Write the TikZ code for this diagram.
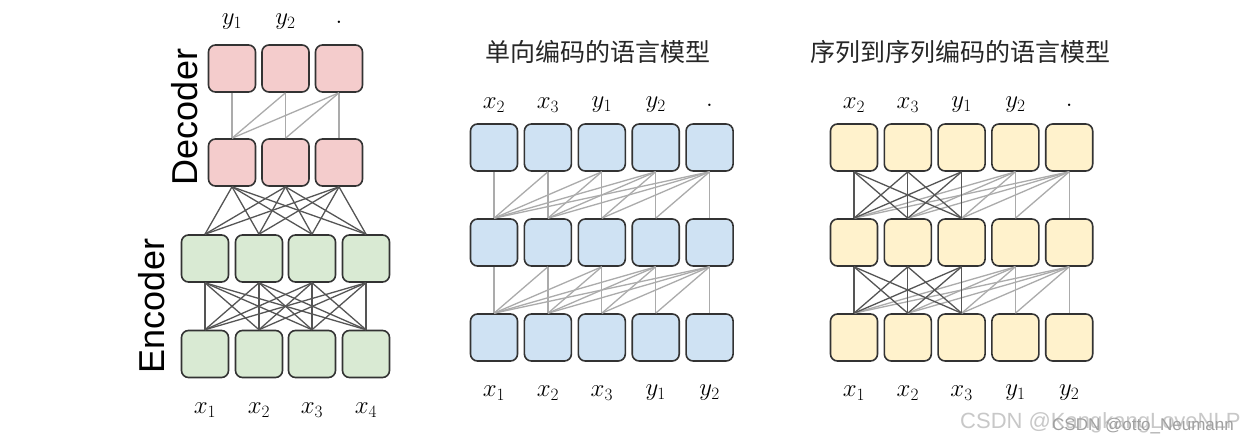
\documentclass[tikz,border=0pt]{standalone}
\usepackage{fontspec}
\newfontfamily\cjk{Noto Sans CJK SC}
\newfontfamily\arial{Liberation Sans}
\definecolor{pinkf}{HTML}{F4CCCC}
\definecolor{greenf}{HTML}{D9EAD3}
\definecolor{bluef}{HTML}{CFE2F3}
\definecolor{yellowf}{HTML}{FFF2CC}
\definecolor{boxline}{HTML}{333333}
\definecolor{lightc}{HTML}{ABABAB}
\definecolor{darkc}{HTML}{555555}
\definecolor{wm}{HTML}{C8C8C8}
\definecolor{wm2}{HTML}{A0A0A0}
\begin{document}
\begin{tikzpicture}[x=1pt,y=-1pt,
  cell/.style={draw=boxline,line width=1.6pt,rounded corners=7pt,minimum width=47pt,minimum height=47pt,inner sep=0pt},
  lite/.style={draw=lightc,line width=1.3pt},
  dark/.style={draw=darkc,line width=1.3pt},
  lab/.style={font=\fontsize{27}{30}\selectfont,inner sep=0pt},
  ttl/.style={font=\cjk\fontsize{25}{30}\selectfont,text=black!85,inner sep=0pt},
  side/.style={font=\arial\fontsize{36}{40}\selectfont,rotate=90,inner sep=0pt}]
\useasboundingbox[fill=white] (0,0) rectangle (1247,441);
% ---------- left panel ----------
\foreach \i/\x in {1/232,2/285.5,3/339}{
  \node[cell,fill=pinkf] (dt\i) at (\x,68.5) {};
  \node[cell,fill=pinkf] (db\i) at (\x,162.5) {};
}
\foreach \i/\x in {1/205,2/259,3/312,4/366}{
  \node[cell,fill=greenf] (et\i) at (\x,258.5) {};
  \node[cell,fill=greenf] (eb\i) at (\x,354) {};
}
\foreach \i in {1,2,3}{\foreach \j in {1,...,\i}{\draw[lite] (dt\i.south) -- (db\j.north);}}
\foreach \i in {1,2,3}{\foreach \j in {1,2,3,4}{\draw[dark] (db\i.south) -- (et\j.north);}}
\foreach \i in {1,2,3,4}{\foreach \j in {1,2,3,4}{\draw[dark] (et\i.south) -- (eb\j.north);}}
\node[lab] (ly1) at (232,22) {$y_1$};
\node[lab] (ly2) at (285.5,22) {$y_2$};
\node[lab] (ly3) at (339,22) {$.$};
\node[lab] (lx1) at (205,410) {$x_1$};
\node[lab] (lx2) at (259,410) {$x_2$};
\node[lab] (lx3) at (312,410) {$x_3$};
\node[lab] (lx4) at (366,410) {$x_4$};
\node[side] (dec) at (185,117) {Decoder};
\node[side] (enc) at (152,306) {Encoder};
% ---------- middle panel ----------
\foreach \i in {1,...,5}{
  \pgfmathsetmacro{\xx}{494+53.9*(\i-1)}
  \node[cell,fill=bluef] (mt\i) at (\xx,147.5) {};
  \node[cell,fill=bluef] (mm\i) at (\xx,242.5) {};
  \node[cell,fill=bluef] (mb\i) at (\xx,337.5) {};
}
\foreach \i in {1,...,5}{\foreach \j in {1,...,\i}{
  \draw[lite] (mt\i.south) -- (mm\j.north);
  \draw[lite] (mm\i.south) -- (mb\j.north);}}
\node[ttl] (mtitle) at (598,52) {单向编码的语言模型};
\foreach \i/\t in {1/x_2,2/x_3,3/y_1,4/y_2,5/.}{
  \pgfmathsetmacro{\xx}{494+53.9*(\i-1)}
  \node[lab] (mlt\i) at (\xx,105) {$\t$};}
\foreach \i/\t in {1/x_1,2/x_2,3/x_3,4/y_1,5/y_2}{
  \pgfmathsetmacro{\xx}{494+53.9*(\i-1)}
  \node[lab] (mlb\i) at (\xx,393) {$\t$};}
% ---------- right panel ----------
\foreach \i in {1,...,5}{
  \pgfmathsetmacro{\xx}{854+53.8*(\i-1)}
  \node[cell,fill=yellowf] (rt\i) at (\xx,147.5) {};
  \node[cell,fill=yellowf] (rm\i) at (\xx,242.5) {};
  \node[cell,fill=yellowf] (rb\i) at (\xx,337.5) {};
}
\foreach \i in {4,5}{\foreach \j in {1,...,\i}{
  \draw[lite] (rt\i.south) -- (rm\j.north);
  \draw[lite] (rm\i.south) -- (rb\j.north);}}
\foreach \i in {1,2,3}{\foreach \j in {1,2,3}{
  \draw[dark] (rt\i.south) -- (rm\j.north);
  \draw[dark] (rm\i.south) -- (rb\j.north);}}
\node[ttl] (rtitle) at (960,52) {序列到序列编码的语言模型};
\foreach \i/\t in {1/x_2,2/x_3,3/y_1,4/y_2,5/.}{
  \pgfmathsetmacro{\xx}{854+53.8*(\i-1)}
  \node[lab] (rlt\i) at (\xx,105) {$\t$};}
\foreach \i/\t in {1/x_1,2/x_2,3/x_3,4/y_1,5/y_2}{
  \pgfmathsetmacro{\xx}{854+53.8*(\i-1)}
  \node[lab] (rlb\i) at (\xx,393) {$\t$};}
% ---------- watermark ----------
\node[font=\arial\fontsize{22}{24}\selectfont,text=wm,anchor=west,inner sep=0pt] (wm1) at (960,423) {CSDN @KangkangLoveNLP};
\node[font=\arial\fontsize{17}{19}\selectfont,text=wm2,anchor=west,inner sep=0pt] (wm2) at (1052,426) {CSDN @otto\_Neumann};
\end{tikzpicture}
\end{document}
